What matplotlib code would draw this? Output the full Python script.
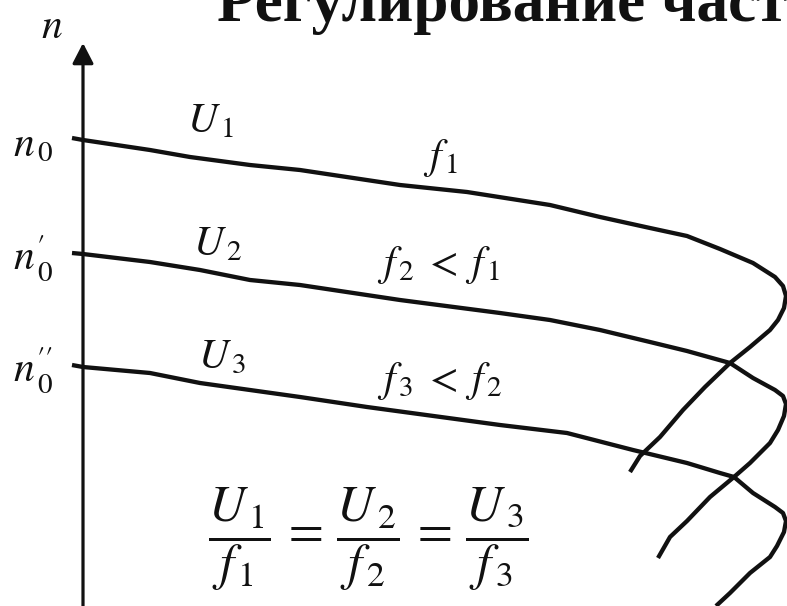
import matplotlib
matplotlib.use("Agg")
import matplotlib.pyplot as plt

plt.rcParams["mathtext.fontset"] = "stix"
plt.rcParams["font.family"] = ["Liberation Serif", "DejaVu Serif"]

# Mechanical characteristics n(M) of an induction motor under frequency control
M1 = [-11, 0, 67, 107, 167, 217, 317, 384, 467, 517, 567, 604, 637, 670, 692,
      700, 703, 701, 695, 687, 667, 647, 622, 600, 577, 557, 547]
n1 = [468, 466, 456, 449, 441, 436, 421, 414, 401, 389, 378, 370, 357, 343, 329,
      320, 310, 298, 286, 276, 259, 243, 219, 196, 169, 150, 134]

M2 = [-11, 0, 67, 117, 167, 217, 317, 417, 467, 517, 567, 604, 647, 670, 692,
      700, 703, 701, 695, 687, 667, 651, 627, 604, 587, 575]
n2 = [353, 352, 344, 336, 326, 321, 306, 293, 286, 276, 264, 255, 243, 228, 216,
      210, 202, 190, 176, 163, 143, 129, 109, 85, 69, 48]

M3 = [-11, 0, 67, 117, 217, 284, 417, 484, 550, 604, 637, 651, 670, 692,
      700, 703, 701, 694, 687, 667, 647, 633]
n3 = [241, 239, 233, 223, 209, 199, 181, 173, 156, 143, 133, 129, 113, 99,
      93, 85, 74, 60, 49, 33, 13, 0]

speed_labels = [r"$n_{\,0}$", r"$n_{\,0}^{\prime}$", r"$n_{\,0}^{\prime\prime}$"]
voltage_labels = [r"$U_{\,1}$", r"$U_{\,2}$", r"$U_{\,3}$"]
freq_labels = [r"$f_{\,1}$", r"$f_{\,2}\;<\;f_{\,1}$", r"$f_{\,3}\;<\;f_{\,2}$"]
ratio_label = (r"$\dfrac{U_{\,1}}{f_{\,1}} \,=\, \dfrac{U_{\,2}}{f_{\,2}}"
               r" \,=\, \dfrac{U_{\,3}}{f_{\,3}}$")
title = "Регулирование частоты"

fig = plt.figure(figsize=(7.87, 6.06), dpi=100)
ax = fig.add_axes([0, 0, 1, 1])
ax.set_xlim(-83, 704)
ax.set_ylim(0, 606)
ax.axis("off")

ink = "#111111"
for M, n in [(M1, n1), (M2, n2), (M3, n3)]:
    ax.plot(M, n, color=ink, lw=3.1, solid_capstyle="butt", solid_joinstyle="round")

# speed axis with arrow
ax.annotate("", xy=(0, 563), xytext=(0, -5),
            arrowprops=dict(arrowstyle="-|>,head_length=0.62,head_width=0.32",
                            mutation_scale=20, lw=2.3, color=ink, fc=ink,
                            shrinkA=0, shrinkB=0))

fs = 30
ax.text(-31, 568, r"$n$", fontsize=fs, ha="center", va="baseline", color=ink)

for lab, y in zip(speed_labels, [451, 336, 224]):
    ax.text(-70, y, lab, fontsize=fs, ha="left", va="baseline", color=ink)

for lab, (x, y) in zip(voltage_labels, [(104, 474), (110, 351), (115, 238)]):
    ax.text(x, y, lab, fontsize=fs, ha="left", va="baseline", color=ink)

for lab, (x, y) in zip(freq_labels, [(340, 438), (294, 331), (294, 215)]):
    ax.text(x, y, lab, fontsize=fs, ha="left", va="baseline", color=ink)

ax.text(285, 67, ratio_label, fontsize=36.5, ha="center", va="center", color=ink)

fig.text(217 / 787, 1 - 21 / 606, title, fontsize=45.5, fontweight="bold",
         ha="left", va="baseline", color=ink,
         family=["Liberation Serif", "DejaVu Serif"])

fig.savefig("out.png", dpi=100)
